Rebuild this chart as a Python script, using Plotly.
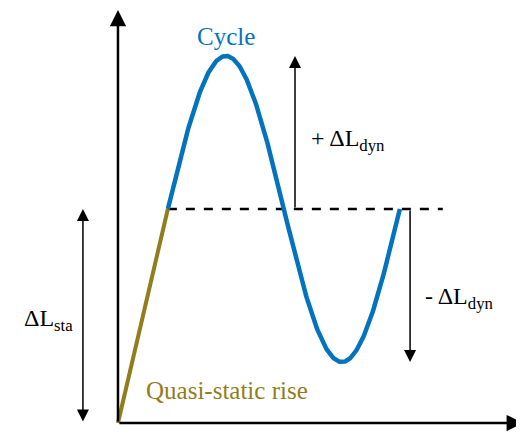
import numpy as np
import plotly.graph_objects as go

# ---- schematic parameters (time in cycle periods, load in units of static level) ----
rise_time = 0.215          # duration of quasi-static rise
static_level = 1.0         # ΔL_sta
dyn_amplitude = 0.715      # ΔL_dyn
n_cycles = 1.0
dash_end = 1.40
axis_x_end = 1.745
axis_y_end = 1.93
sta_arrow_x = -0.151
plus_arrow_x = 0.763
minus_arrow_x = 1.259

labels = {
    "cycle": "Cycle",
    "plus": "+ ΔL<sub>dyn</sub>",
    "minus": "- ΔL<sub>dyn</sub>",
    "sta": "ΔL<sub>sta</sub>",
    "rise": "Quasi-static rise",
}

BLUE = "#0473bd"
OLIVE = "#927d1c"
FONT = "Liberation Serif, Times New Roman, DejaVu Serif, serif"

rise_t = [0.0, rise_time]
rise_L = [0.0, static_level]

phase = np.linspace(0, 2 * np.pi * n_cycles, 300)
cyc_t = rise_time + phase / (2 * np.pi)
cyc_L = static_level + dyn_amplitude * np.sin(phase)

fig = go.Figure()
fig.add_trace(go.Scatter(x=[rise_time, dash_end], y=[static_level, static_level], mode="lines",
                         line=dict(color="black", width=2.5, dash="dash"), hoverinfo="skip"))
fig.add_trace(go.Scatter(x=cyc_t, y=cyc_L, mode="lines",
                         line=dict(color=BLUE, width=4.5), hoverinfo="skip"))
fig.add_trace(go.Scatter(x=rise_t, y=rise_L, mode="lines",
                         line=dict(color=OLIVE, width=4), hoverinfo="skip"))


def arrow(x0, y0, x1, y1, width, size, head=2, side="end"):
    fig.add_annotation(x=x1, y=y1, ax=x0, ay=y0, xref="x", yref="y", axref="x", ayref="y",
                       text="", showarrow=True, arrowhead=head, arrowsize=size,
                       arrowwidth=width, arrowcolor="black", arrowside=side,
                       startarrowhead=head, startarrowsize=size, standoff=0, startstandoff=0)


# axes
arrow(0, 0, 0, axis_y_end, 2.5, 1.3)
arrow(0, 0, axis_x_end, 0, 2.5, 1.3)
# dynamic arrows
arrow(plus_arrow_x, static_level, plus_arrow_x, static_level + dyn_amplitude, 1.5, 1.6)
arrow(minus_arrow_x, static_level, minus_arrow_x, static_level - dyn_amplitude, 1.5, 1.6)
# static double arrow
arrow(sta_arrow_x, 0, sta_arrow_x, static_level, 1.5, 1.6, side="end+start")

fig.add_annotation(x=rise_time + 0.25, y=static_level + dyn_amplitude + 0.09, text=labels["cycle"],
                   showarrow=False, font=dict(size=25, color=BLUE))
fig.add_annotation(x=plus_arrow_x + 0.06, y=1.32, text=labels["plus"], xanchor="left",
                   showarrow=False, font=dict(size=24, color="black"))
fig.add_annotation(x=minus_arrow_x + 0.055, y=0.585, text=labels["minus"], xanchor="left",
                   showarrow=False, font=dict(size=24, color="black"))
fig.add_annotation(x=sta_arrow_x - 0.035, y=0.48, text=labels["sta"], xanchor="right",
                   showarrow=False, font=dict(size=24, color="black"))
fig.add_annotation(x=0.11, y=0.15, text=labels["rise"], xanchor="left",
                   showarrow=False, font=dict(size=25, color=OLIVE))

fig.update_layout(
    width=516, height=425, margin=dict(l=0, r=0, t=0, b=0),
    font=dict(family=FONT, size=24),
    plot_bgcolor="white", paper_bgcolor="white", showlegend=False,
    xaxis=dict(range=[-0.474, 1.75], visible=False, fixedrange=True),
    yaxis=dict(range=[-0.0467, 1.939], visible=False, fixedrange=True),
)
fig.write_html("out.html")
